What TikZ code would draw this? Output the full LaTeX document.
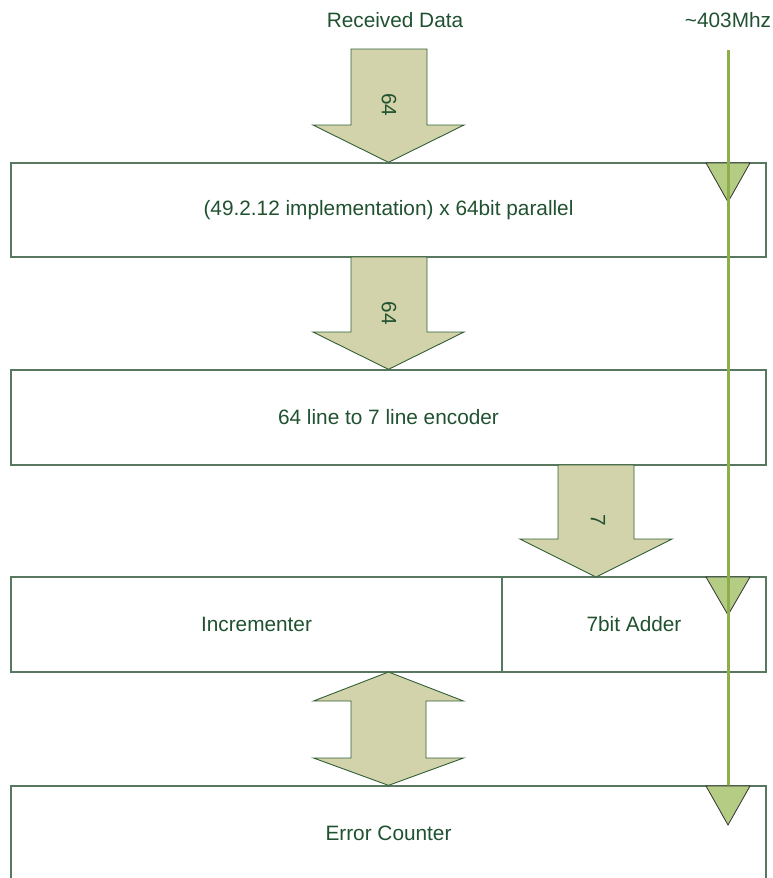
\documentclass[tikz,border=0pt]{standalone}
\usepackage{fontspec}
\setmainfont{Liberation Sans}
\definecolor{txtgreen}{RGB}{32,82,48}
\definecolor{boxline}{RGB}{88,120,96}
\definecolor{arrowfill}{RGB}{210,211,170}
\definecolor{arrowline}{RGB}{50,95,55}
\definecolor{clockline}{RGB}{140,174,75}
\definecolor{clockfill}{RGB}{181,204,132}
\begin{document}
\begin{tikzpicture}[x=1pt,y=-1pt,
  blk/.style={draw=boxline,line width=1.3pt,fill=white,rectangle,inner sep=0pt,
    text=txtgreen,font=\fontsize{20.8}{24}\selectfont},
  lbl/.style={text=txtgreen,font=\fontsize{20.8}{24}\selectfont,inner sep=0pt},
  barrow/.style={draw=arrowline,line width=0.9pt,fill=arrowfill,line join=miter},
  clk/.style={draw=black!80,line width=0.8pt,fill=clockfill},
  clkline/.style={draw=clockline,line width=3pt}]
\useasboundingbox (0,0) rectangle (773,878);
\clip (0,0) rectangle (773,878);
% headers
\node[lbl] (rd) at (395,20) {Received Data};
\node[lbl] (clkname) at (728,20) {\textasciitilde403Mhz};
% boxes
\node[blk,minimum width=755pt,minimum height=94pt] (b1) at (388.5,210) {(49.2.12 implementation) x 64bit parallel};
\node[blk,minimum width=755pt,minimum height=95pt] (b2) at (388.5,417.5) {64 line to 7 line encoder};
\node[blk,minimum width=491pt,minimum height=95pt] (inc) at (256.5,624.5) {Incrementer};
\node[blk,minimum width=264pt,minimum height=95pt] (add) at (634,624.5) {7bit Adder};
\node[blk,minimum width=755pt,minimum height=94pt] (ec) at (388.5,833) {Error Counter};
% block arrows
\draw[barrow] (351,49) -- (427,49) -- (427,125) -- (464,125) -- (b1.north) -- (313,125) -- (351,125) -- cycle;
\node[lbl,rotate=-90] (w1) at (389,105) {64};
\draw[barrow] (351,257) -- (427,257) -- (427,332) -- (464,332) -- (b2.north) -- (313,332) -- (351,332) -- cycle;
\node[lbl,rotate=-90] (w2) at (389,313) {64};
\coordinate (t3) at (596,577);
\draw[barrow] (558,465) -- (634,465) -- (634,539) -- (672,539) -- (t3) -- (520,539) -- (558,539) -- cycle;
\node[lbl,rotate=-90] (w3) at (598,520) {7};
\coordinate (dtop) at (388.5,672);
\draw[barrow] (dtop) -- (463.5,701) -- (426,701) -- (426,758) -- (463.5,758) -- (ec.north) -- (313.5,758) -- (351,758) -- (351,701) -- (313.5,701) -- cycle;
% clock
\coordinate (ctop) at (728,50);
\coordinate (cbot) at (728,786);
\draw[clk] (706,163) -- (750,163) -- (728,202) -- cycle;
\draw[clk] (706,577) -- (750,577) -- (728,615) -- cycle;
\draw[clkline] (ctop) -- (cbot);
\draw[clk] (706,786) -- (750,786) -- (728,825) -- cycle;
\end{tikzpicture}
\end{document}
